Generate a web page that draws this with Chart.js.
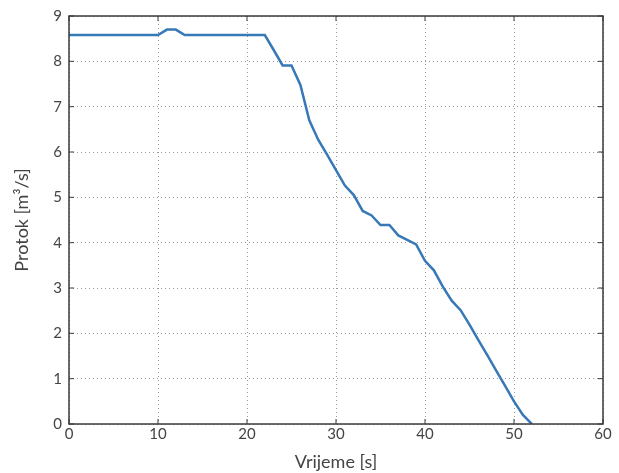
<!DOCTYPE html>
<html>
<head>
<meta charset="utf-8">
<script src="https://cdn.jsdelivr.net/npm/chart.js@4/dist/chart.umd.min.js"></script>
<style>
  html, body { margin: 0; padding: 0; background: #fff; }
  #wrap { width: 619px; height: 473px; }
</style>
</head>
<body>
<div id="wrap"><canvas id="chart-area"></canvas></div>
<script>
// time [s] and flow [m3/s]
var arrTime = [0, 1, 2, 3, 4, 5, 6, 7, 8, 9, 10, 11, 12, 13, 14, 15, 16, 17, 18, 19, 20,
    21, 22, 23, 24, 25, 26, 27, 28, 29, 30, 31, 32, 33, 34, 35, 36, 37, 38, 39, 40,
    41, 42, 43, 44, 45, 46, 47, 48, 49, 50, 51, 52];
var arrFlow = [8.58, 8.58, 8.58, 8.58, 8.58, 8.58, 8.58, 8.58, 8.58, 8.58, 8.58,
    8.7, 8.7, 8.58, 8.58, 8.58, 8.58, 8.58, 8.58, 8.58, 8.58, 8.58, 8.58,
    8.25, 7.91, 7.91, 7.48, 6.7, 6.27, 5.94, 5.6, 5.26, 5.05, 4.7, 4.6, 4.39, 4.39,
    4.16, 4.06, 3.96, 3.6, 3.39, 3.03, 2.72, 2.51, 2.19, 1.85, 1.52, 1.18, 0.84,
    0.5, 0.2, 0];
var xTicks = [0, 10, 20, 30, 40, 50, 60];
var yTicks = [0, 1, 2, 3, 4, 5, 6, 7, 8, 9];

var textColor = '#444';
var frameColor = '#3a3a3a';

// frame round the plot + small inward tick marks (matlab look)
var framePlugin = {
    id: 'frame',
    afterDraw: function (chart) {
        var ctx = chart.ctx, a = chart.chartArea;
        var sx = chart.scales.x, sy = chart.scales.y;
        ctx.save();
        ctx.strokeStyle = frameColor;
        ctx.lineWidth = 1.5;
        ctx.strokeRect(a.left, a.top, a.right - a.left, a.bottom - a.top);
        ctx.lineWidth = 1;
        ctx.beginPath();
        xTicks.forEach(function (v) {
            var px = sx.getPixelForValue(v);
            ctx.moveTo(px, a.bottom); ctx.lineTo(px, a.bottom - 5);
            ctx.moveTo(px, a.top); ctx.lineTo(px, a.top + 5);
        });
        yTicks.forEach(function (v) {
            var py = sy.getPixelForValue(v);
            ctx.moveTo(a.left, py); ctx.lineTo(a.left + 5, py);
            ctx.moveTo(a.right, py); ctx.lineTo(a.right - 5, py);
        });
        ctx.stroke();
        ctx.restore();
    }
};

var points = arrTime.map(function (t, i) { return {x: t, y: arrFlow[i]}; });

var config = {
    type: 'line',
    data: {
        datasets: [{
            data: points,
            borderColor: '#3779b6',
            borderWidth: 2.5,
            pointRadius: 0,
            fill: false,
            tension: 0
        }]
    },
    options: {
        responsive: true,
        maintainAspectRatio: false,
        animation: false,
        layout: {padding: {left: 0, right: 16, top: 13, bottom: 0}},
        plugins: {legend: {display: false}, tooltip: {enabled: false}},
        scales: {
            x: {
                type: 'linear',
                min: 0, max: 60,
                afterFit: function (s) { s.height = 49; },
                afterBuildTicks: function (s) { s.ticks = xTicks.map(function (v) { return {value: v}; }); },
                ticks: {color: textColor, font: {family: 'Lato', size: 15}, padding: 1, maxRotation: 0},
                grid: {color: '#9a9a9a', lineWidth: 1, drawTicks: false},
                border: {display: false, dash: [1, 3]},
                title: {display: true, text: 'Vrijeme [s]', color: textColor,
                    font: {family: 'Lato', size: 18}, padding: {top: 1, bottom: 0}}
            },
            y: {
                min: 0, max: 9,
                afterFit: function (s) { s.width = 69; },
                afterBuildTicks: function (s) { s.ticks = yTicks.map(function (v) { return {value: v}; }); },
                ticks: {color: textColor, font: {family: 'Lato', size: 15}, padding: 7},
                grid: {color: '#9a9a9a', lineWidth: 1, drawTicks: false},
                border: {display: false, dash: [1, 3]},
                title: {display: true, text: 'Protok [m\u00b3/s]', color: textColor,
                    font: {family: 'Lato', size: 18}, padding: {top: 11, bottom: 4}}
            }
        }
    },
    plugins: [framePlugin]
};

var myChart = new Chart(document.getElementById('chart-area').getContext('2d'), config);
</script>
</body>
</html>
